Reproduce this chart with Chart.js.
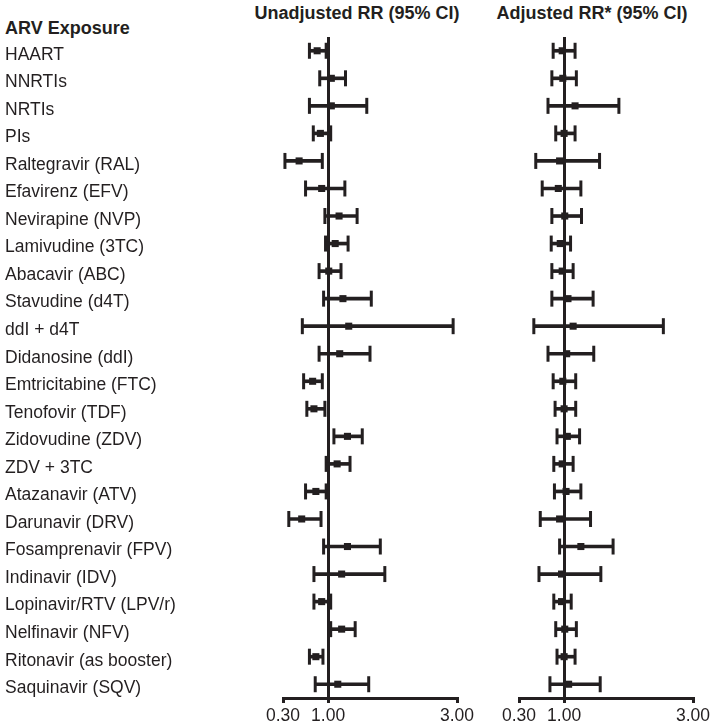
<!DOCTYPE html>
<html>
<head>
<meta charset="utf-8">
<script src="https://cdn.jsdelivr.net/npm/chart.js@4.4.1/dist/chart.umd.min.js"></script>
<style>
  body { margin: 0; background: #fff; width: 714px; height: 728px; position: relative; overflow: hidden;
         font-family: "Liberation Sans", Arial, sans-serif; color: #231f20; }
  .hd { position: absolute; font-weight: bold; font-size: 18px; line-height: 18px; white-space: nowrap; }
  .mid { transform: translateX(-50%); }
  canvas { position: absolute; top: 0; }
</style>
</head>
<body>
<div class="hd" style="left:5px; top:19px;">ARV Exposure</div>
<div class="hd mid" style="left:357px; top:4px;">Unadjusted RR (95% CI)</div>
<div class="hd mid" style="left:592px; top:4px;">Adjusted RR* (95% CI)</div>
<canvas id="unadj" width="480" height="728" style="left:0"></canvas>
<canvas id="adj" width="234" height="728" style="left:480px"></canvas>
<script>
// ARV exposure categories (top to bottom)
const exposures = [
  "HAART", "NNRTIs", "NRTIs", "PIs", "Raltegravir (RAL)", "Efavirenz (EFV)",
  "Nevirapine (NVP)", "Lamivudine (3TC)", "Abacavir (ABC)", "Stavudine (d4T)",
  "ddI + d4T", "Didanosine (ddI)", "Emtricitabine (FTC)", "Tenofovir (TDF)",
  "Zidovudine (ZDV)", "ZDV + 3TC", "Atazanavir (ATV)", "Darunavir (DRV)",
  "Fosamprenavir (FPV)", "Indinavir (IDV)", "Lopinavir/RTV (LPV/r)",
  "Nelfinavir (NFV)", "Ritonavir (as booster)", "Saquinavir (SQV)"
];

// unadjusted RR with 95% CI
const unadjRR = [0.83, 1.05, 1.05, 0.88, 0.55, 0.90, 1.17, 1.11, 1.01, 1.23, 1.32, 1.18,
                 0.76, 0.78, 1.30, 1.14, 0.81, 0.59, 1.30, 1.21, 0.90, 1.21, 0.81, 1.15];
const unadjLo = [0.71, 0.87, 0.71, 0.77, 0.33, 0.65, 0.95, 0.96, 0.86, 0.93, 0.60, 0.86,
                 0.62, 0.67, 1.09, 0.97, 0.65, 0.39, 0.93, 0.78, 0.78, 1.04, 0.71, 0.80];
const unadjHi = [0.97, 1.27, 1.60, 1.04, 0.91, 1.26, 1.45, 1.31, 1.20, 1.67, 2.94, 1.65,
                 0.91, 0.95, 1.53, 1.34, 0.97, 0.89, 1.81, 1.88, 1.04, 1.42, 0.92, 1.63];

// adjusted RR with 95% CI
const adjRR = [0.97, 0.98, 1.17, 1.00, 0.93, 0.91, 1.01, 0.94, 0.97, 1.06, 1.14, 1.04,
               0.98, 1.00, 1.05, 0.97, 1.03, 0.93, 1.26, 0.96, 0.96, 1.01, 1.00, 1.07];
const adjLo = [0.83, 0.81, 0.75, 0.87, 0.56, 0.66, 0.81, 0.80, 0.81, 0.81, 0.53, 0.75,
               0.83, 0.86, 0.89, 0.84, 0.85, 0.63, 0.93, 0.61, 0.84, 0.87, 0.89, 0.78];
const adjHi = [1.17, 1.19, 1.85, 1.17, 1.55, 1.26, 1.27, 1.10, 1.14, 1.45, 2.54, 1.46,
               1.18, 1.18, 1.24, 1.14, 1.26, 1.41, 1.76, 1.57, 1.11, 1.19, 1.17, 1.56];

// x axis ticks
const xTicks = [0.30, 1.00, 3.00];

const ink = "#231f20";
const tickFont = { family: "'Liberation Sans', Arial, sans-serif", size: 17.5 };

function makeForest(id, rr, lo, hi, showLabels, pad) {
  const caps = lo.map((v, i) => ({ x: v, y: exposures[i] }))
    .concat(hi.map((v, i) => ({ x: v, y: exposures[i] })));

  return new Chart(document.getElementById(id), {
    type: "bar",
    data: {
      labels: exposures,
      datasets: [
        {
          type: "bar",
          indexAxis: "y",
          data: lo.map((v, i) => [v, hi[i]]),
          backgroundColor: ink,
          borderWidth: 0,
          barThickness: 3
        },
        {
          type: "scatter",
          data: caps,
          pointStyle: "line",
          pointRotation: 90,
          pointRadius: 8,
          pointHoverRadius: 8,
          pointBorderWidth: 3,
          pointBorderColor: ink
        },
        {
          type: "scatter",
          data: rr.map((v, i) => ({ x: v, y: exposures[i] })),
          pointStyle: "rect",
          pointRadius: 5,
          pointHoverRadius: 5,
          pointBorderWidth: 0,
          pointBackgroundColor: ink
        }
      ]
    },
    options: {
      indexAxis: "y",
      responsive: false,
      animation: false,
      events: [],
      layout: { padding: pad },
      plugins: { legend: { display: false }, tooltip: { enabled: false } },
      scales: {
        x: {
          type: "linear",
          position: "bottom",
          min: 0.3,
          max: 3,
          afterBuildTicks: s => { s.ticks = xTicks.map(v => ({ value: v })); },
          afterFit: s => { s.height = 30; },
          ticks: {
            callback: v => Number(v).toFixed(2),
            font: tickFont,
            color: ink,
            padding: 3,
            autoSkip: false,
            maxRotation: 0
          },
          grid: {
            color: c => (c.tick && c.tick.value === 1 ? ink : "rgba(0,0,0,0)"),
            lineWidth: 3,
            tickColor: ink,
            tickWidth: 3,
            tickLength: 5
          },
          border: { display: true, color: ink, width: 3 }
        },
        y: {
          type: "category",
          display: showLabels,
          offset: true,
          afterFit: s => { if (showLabels) s.width = 278; },
          grid: { display: false },
          border: { display: false },
          ticks: {
            font: tickFont,
            color: ink,
            crossAlign: "far",
            labelOffset: 4,
            padding: 0,
            autoSkip: false
          }
        }
      }
    }
  });
}

makeForest("unadj", unadjRR, unadjLo, unadjHi, true, { left: 5, right: 23, top: 37, bottom: 0 });
makeForest("adj", adjRR, adjLo, adjHi, false, { left: 39, right: 21, top: 37, bottom: 0 });
</script>
</body>
</html>
